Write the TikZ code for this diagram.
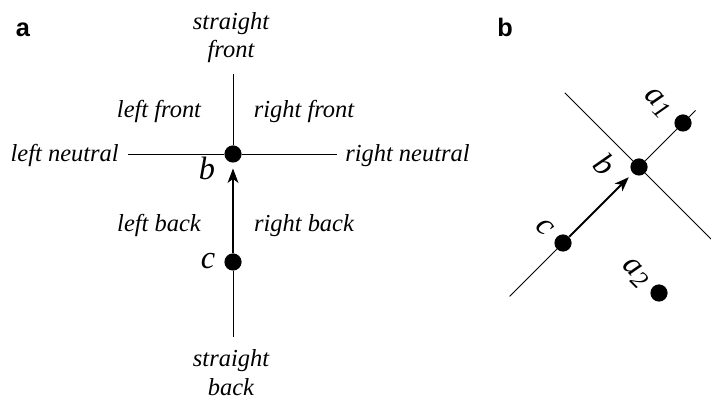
\documentclass[tikz,border=0pt]{standalone}
\usepackage{fontspec}
\setmainfont{Liberation Serif}
\setsansfont{Liberation Sans}
\usetikzlibrary{arrows.meta}

\begin{document}
\begin{tikzpicture}[
    x=0.025cm, y=-0.025cm,
    font=\itshape\fontsize{17.4}{20}\selectfont,
    dirlabel/.style={align=center, inner sep=0pt},
    pt/.style={circle, fill=black, inner sep=0pt, minimum size=0.43cm},
    ptlabel/.style={font=\itshape\fontsize{23}{23}\selectfont, inner sep=0pt},
    panel/.style={font=\sffamily\bfseries\fontsize{18}{18}\selectfont, inner sep=0pt},
    axis/.style={line width=.7pt},
    move/.style={-{Stealth[length=.36cm, width=.27cm, inset=.1cm]},
      line width=1.4pt, shorten >=.14cm}
  ]
    \useasboundingbox (0,0) rectangle (711,399);

    % a: directions around b, c behind
    \node[panel, anchor=base] (tagA) at (23,37) {a};
    \node[pt] (b) at (233,154) {};
    \node[pt] (c) at (233,262) {};
    \coordinate (front) at (233,74);
    \coordinate (back) at (233,337);
    \coordinate (left) at (128,154);
    \coordinate (right) at (337,154);
    \draw[axis] (left) -- (b) -- (right);
    \draw[axis] (front) -- (b);
    \draw[axis] (c) -- (back);
    \draw[move] (c) -- (b);
    \node[ptlabel, anchor=base] (labB) at (207,180) {b};
    \node[ptlabel, anchor=base] (labC) at (208,269) {c};

    % base of a two-line node sits on its last line
    \node[dirlabel, anchor=base] (sfront) at (231,58) {straight\\front};
    \node[dirlabel, anchor=base] (lfront) at (159,118) {left front};
    \node[dirlabel, anchor=base] (rfront) at (304,118) {right front};
    \node[dirlabel, anchor=base east] (lneutral) at (119,162) {left neutral};
    \node[dirlabel, anchor=base west] (rneutral) at (345,162) {right neutral};
    \node[dirlabel, anchor=base] (lback) at (159,232) {left back};
    \node[dirlabel, anchor=base] (rback) at (304,232) {right back};
    \node[dirlabel, anchor=base] (sback) at (231,395) {straight\\back};

    % b: same frame turned by 45 degrees
    \node[panel, anchor=base] (tagB) at (505,37) {b};
    \node[pt] (b2) at (639,167) {};
    \node[pt] (c2) at (563,243) {};
    \node[pt] (a1) at (683,123) {};
    \node[pt] (a2) at (659,293) {};
    \coordinate (front2) at (695.6,110.4);
    \coordinate (back2) at (509.6,296.4);
    \coordinate (left2) at (564.8,92.8);
    \coordinate (right2) at (712.5,240.5);
    \draw[axis] (left2) -- (b2) -- (right2);
    \draw[axis] (b2) -- (a1) -- (front2);
    \draw[axis] (c2) -- (back2);
    \draw[move] (c2) -- (b2);
    \node[ptlabel, rotate=-45] (labB2) at (605,164) {b};
    \node[ptlabel, rotate=-45] (labC2) at (545,227) {c};
    \node[ptlabel, rotate=-45] (labA1) at (657,103)
      {a\raisebox{-.35ex}{\fontsize{18}{18}\selectfont 1}};
    \node[ptlabel, rotate=-45] (labA2) at (635,273)
      {a\raisebox{-.35ex}{\fontsize{18}{18}\selectfont 2}};
  \end{tikzpicture}
\end{document}
